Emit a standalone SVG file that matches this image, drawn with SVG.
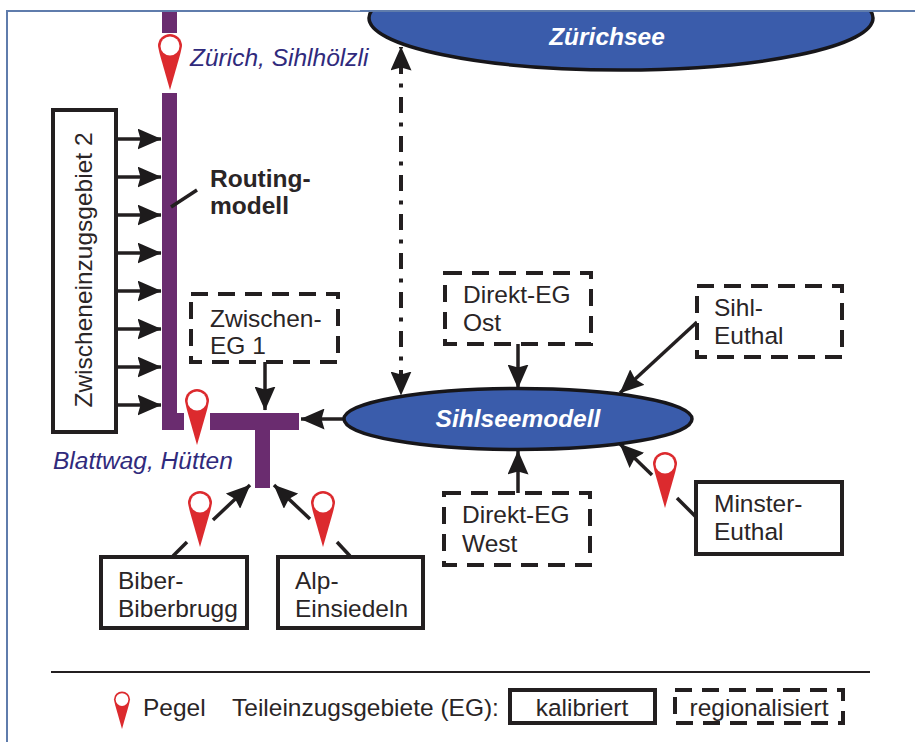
<svg xmlns="http://www.w3.org/2000/svg" width="915" height="742" viewBox="0 0 915 742">
<style>
text{font-family:"Liberation Sans",Arial,sans-serif;fill:#2a2526;font-size:24.500px}
.st{fill:none;stroke:#231f20;stroke-width:3.500}
.box{fill:#fff;stroke:#231f20;stroke-width:4}
.dash{fill:#fff;stroke:#231f20;stroke-width:4;stroke-dasharray:17 10}
.lake{fill:#3a5cab;stroke:#17161a;stroke-width:3.500}
.riv{fill:#6a2c6f}
.g{fill:#302a7c;font-style:italic}
.w{fill:#fff;font-weight:bold;font-style:italic}
</style>
<defs>
<marker id="a" viewBox="0 0 24 21" refX="23.500" refY="10.500" markerWidth="24" markerHeight="21" markerUnits="userSpaceOnUse" orient="auto"><path d="M0 0L24 10.500L0 21L3 10.500Z" fill="#1d1b1c"/></marker>
<marker id="b" viewBox="0 0 24 21" refX="23.500" refY="10.500" markerWidth="24" markerHeight="21" markerUnits="userSpaceOnUse" orient="auto-start-reverse"><path d="M0 0L24 10.500L0 21L3 10.500Z" fill="#1d1b1c"/></marker>
<g id="pin"><path d="M-12 -44A12 12 0 1 1 12 -44Q11.500 -41 10 -35L0 0L-10 -35Q-11.500 -41 -12 -44Z" fill="#dc2a2e"/><circle cx="0" cy="-44" r="9.500" fill="#fff"/></g>
</defs>
<rect x="7" y="11" width="930" height="760" fill="#fff" stroke="#5f7cac" stroke-width="2"/>
<g id="zuerichsee"><ellipse cx="621" cy="18" rx="252" ry="52" class="lake"/><rect x="350" y="0" width="540" height="10.500" fill="#fff"/><path d="M360 11H915" stroke="#5f7cac" stroke-width="2"/><text x="607" y="45" text-anchor="middle" class="w">Zürichsee</text></g>
<g id="connectors">
<path class="riv" d="M162 12h15v21h-15ZM162 93h15v320h7v17h-22ZM210 413h89v17h-29v58h-15v-58h-45Z"/>
<path class="st" style="stroke-width:4" stroke-dasharray="16 9.500 4 9.500" stroke-dashoffset="28" d="M401 47V395" marker-start="url(#b)" marker-end="url(#b)"/>
<g class="st">
<path d="M118 139H161" marker-end="url(#a)"/><path d="M118 177H161" marker-end="url(#a)"/><path d="M118 215H161" marker-end="url(#a)"/><path d="M118 253H161" marker-end="url(#a)"/><path d="M118 291H161" marker-end="url(#a)"/><path d="M118 329H161" marker-end="url(#a)"/><path d="M118 367H161" marker-end="url(#a)"/><path d="M118 405H161" marker-end="url(#a)"/>
<path d="M265 362V410" marker-end="url(#a)"/>
<path d="M344 419H301" marker-end="url(#a)"/>
<path d="M518 344V388" marker-end="url(#a)"/>
<path d="M518 493V451" marker-end="url(#a)"/>
<path d="M697 322L620 393" marker-end="url(#a)"/>
<path d="M652 475L620 444" marker-end="url(#a)"/>
<path d="M677 498L696 517"/>
<path d="M213 520L250 485" marker-end="url(#a)"/>
<path d="M310 519L274 485" marker-end="url(#a)"/>
<path d="M173 556L187 542"/>
<path d="M350 556L337 542"/>
<path d="M171 207L197 190"/>
</g>
</g>
<g id="sihlsee"><ellipse cx="518" cy="419" rx="174" ry="30.500" class="lake"/><text x="518" y="427" text-anchor="middle" class="w">Sihlseemodell</text></g>
<g id="pin-zurich"><use href="#pin" x="170" y="90"/><text x="190" y="66" class="g">Zürich, Sihlhölzli</text></g>
<g id="pin-blattwag"><use href="#pin" x="197" y="445"/><text x="53" y="469" class="g">Blattwag, Hütten</text></g>
<use id="pin-biber" href="#pin" x="200" y="547"/>
<use id="pin-alp" href="#pin" x="323" y="547"/>
<use id="pin-minster" href="#pin" x="665" y="508"/>
<g id="zeg2"><rect x="53" y="110" width="63" height="322" class="box"/><text transform="translate(92 270) rotate(-90)" text-anchor="middle">Zwischeneinzugsgebiet 2</text></g>
<g id="routing"><text x="210" y="187" font-weight="bold">Routing-</text><text x="210" y="214" font-weight="bold">modell</text></g>
<g id="zeg1"><rect x="191" y="294" width="147" height="68" class="dash"/><text x="210" y="327">Zwischen-</text><text x="210" y="354">EG 1</text></g>
<g id="ost"><rect x="445" y="273" width="146" height="71" class="dash"/><text x="463" y="303">Direkt-EG</text><text x="463" y="331">Ost</text></g>
<g id="sihl"><rect x="697" y="286" width="145" height="71" class="dash"/><text x="714" y="316">Sihl-</text><text x="714" y="344">Euthal</text></g>
<g id="west"><rect x="444" y="493" width="146" height="72" class="dash"/><text x="462" y="523">Direkt-EG</text><text x="462" y="552">West</text></g>
<g id="minster"><rect x="696" y="482" width="146" height="72" class="box"/><text x="714" y="512">Minster-</text><text x="714" y="540">Euthal</text></g>
<g id="biber"><rect x="101" y="557" width="146" height="71" class="box"/><text x="118" y="589">Biber-</text><text x="118" y="617">Biberbrugg</text></g>
<g id="alp"><rect x="278" y="557" width="145" height="71" class="box"/><text x="295" y="589">Alp-</text><text x="295" y="617">Einsiedeln</text></g>
<path d="M51 672H870" stroke="#231f20" stroke-width="2" fill="none"/>
<g id="legend">
<use href="#pin" transform="translate(122 729) scale(.67)"/>
<text x="143" y="716">Pegel</text>
<text x="232" y="716">Teileinzugsgebiete (EG):</text>
<rect x="510" y="690" width="145" height="33" class="box"/><text x="582" y="716" text-anchor="middle">kalibriert</text>
<rect x="675" y="690" width="168" height="33" class="dash"/><text x="759" y="716" text-anchor="middle">regionalisiert</text>
</g>
</svg>
